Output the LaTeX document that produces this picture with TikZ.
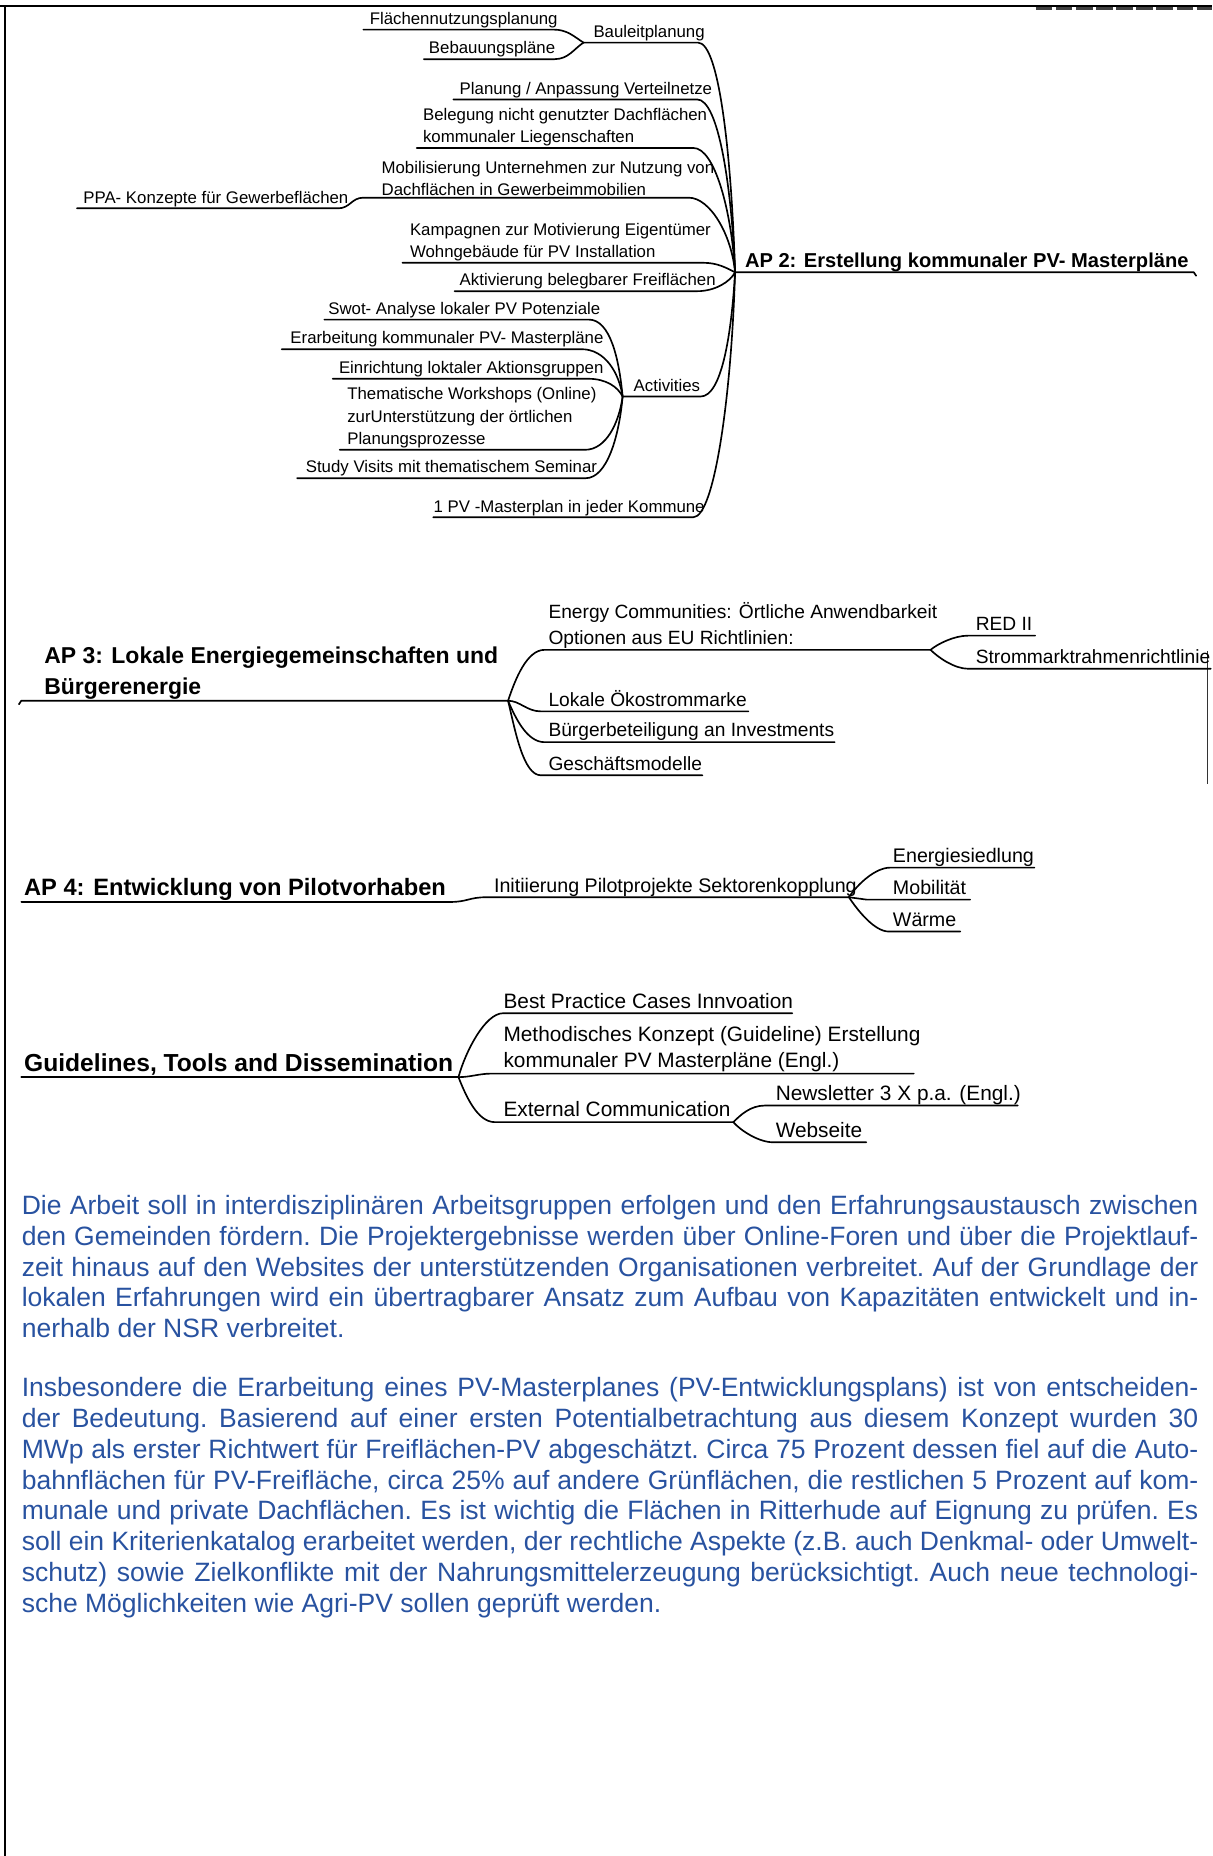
\documentclass[tikz,border=0pt]{standalone}
\usepackage{fontspec}
\setmainfont{Liberation Sans}
\usetikzlibrary{calc}
\definecolor{textblue}{RGB}{40,82,160}

\begin{document}
\begin{tikzpicture}[x=0.5pt, y=-0.5pt,
  lbl/.style={anchor=south west, inner xsep=0pt, inner ysep=0.2pt, text depth=1.8pt, font=\fontsize{7.1}{9.5}\selectfont},
  lbltwo/.style={anchor=south west, inner xsep=0pt, inner ysep=0.5pt, align=left, font=\fontsize{7.1}{9.5}\selectfont},
  sub/.style={lbl, font=\fontsize{#1}{11}\selectfont}, sub/.default=8.1,
  subtwo/.style={lbltwo, font=\fontsize{#1}{11}\selectfont}, subtwo/.default=8.1,
  head/.style={lbl, text depth=2.2pt, font=\bfseries\fontsize{#1}{13}\selectfont}, head/.default=10,
  branch/.style={line width=0.7pt, line cap=round, line join=round},
  para/.style={anchor=base west, inner sep=0pt, text width=497pt, align=justify, text=textblue, font=\fontsize{11.2}{13}\selectfont\frenchspacing},
]
\useasboundingbox (0,0) rectangle (1024,1568);
\draw[line width=1pt] (0,5) -- (1024,5);
\draw[line width=0.7pt] (4,5) -- (4,1568);
\draw[line width=1.2pt, black!75, dash pattern=on 7pt off 1.5pt] (875,7) -- (1024,7);
\draw[line width=0.6pt, black!80] (1020,550) -- (1020,662);

\node[lbl, font=\bfseries\fontsize{8.5}{10}\selectfont] (ap2) at (629,230) {AP 2: Erstellung kommunaler PV- Masterpläne};
\node[lbl] (bau) at (501,36) {Bauleitplanung};
\node[lbl] (flaech) at (312,25) {Flächennutzungsplanung};
\node[lbl] (bebau) at (362,50) {Bebauungspläne};
\node[lbl] (plan) at (388,84) {Planung / Anpassung Verteilnetze};
\node[lbltwo] (beleg) at (357,125) {Belegung nicht genutzter Dachflächen\\kommunaler Liegenschaften};
\node[lbltwo] (mobil) at (322,167) {Mobilisierung Unternehmen zur Nutzung von\\Dachflächen in Gewerbeimmobilien};
\node[lbl] (ppa) at (70,176) {PPA- Konzepte für Gewerbeflächen};
\node[lbltwo] (kamp) at (346,222) {Kampagnen zur Motivierung Eigentümer\\Wohngebäude für PV Installation};
\node[lbl] (aktiv) at (388,246) {Aktivierung belegbarer Freiflächen};
\node[lbl] (act) at (535,335) {Activities};
\node[lbl] (swot) at (277,270) {Swot- Analyse lokaler PV Potenziale};
\node[lbl] (erarb) at (245,295) {Erarbeitung kommunaler PV- Masterpläne};
\node[lbl] (einr) at (286,320) {Einrichtung loktaler Aktionsgruppen};
\node[lbltwo] (them) at (293,380) {Thematische Workshops (Online)\\zurUnterstützung der örtlichen\\Planungsprozesse};
\node[lbl] (study) at (258,404) {Study Visits mit thematischem Seminar};
\node[lbl] (one) at (366,437) {1 PV -Masterplan in jeder Kommune};

\coordinate (hubtwo) at ($(ap2.south west)+(-8,0)$);
\coordinate (hubbau) at ($(bau.south west)+(-8,0)$);
\coordinate (hubact) at ($(act.south west)+(-9,0)$);
\draw[branch] (hubtwo) -- ($(ap2.south east)+(4,0)$) -- ++(2,3);
\draw[branch] (hubbau) -- ($(bau.south east)+(-6,0)$) .. controls +(18,0) and +(-3,-97) .. (hubtwo);
\draw[branch] ($(flaech.south west)+(-5,0)$) -- ($(flaech.south east)+(-4,0)$) .. controls +(12,0) and +(-8,-5) .. (hubbau);
\draw[branch] ($(bebau.south west)+(-4,0)$) -- ($(bebau.south east)+(-1,0)$) .. controls +(12,0) and +(-8,5) .. (hubbau);
\draw[branch] ($(plan.south west)+(-5,0)$) -- ($(plan.south east)+(-13,0)$) .. controls +(18,0) and +(-3,-73) .. (hubtwo);
\draw[branch] ($(beleg.south west)+(-5,0)$) -- ($(beleg.south east)+(-12,0)$) .. controls +(18,0) and +(-3,-52) .. (hubtwo);
\draw[branch] ($(ppa.south west)+(-5,0)$) -- ($(ppa.south east)+(-9,0)$) .. controls +(10,0) and +(-10,0) .. ($(mobil.south west)+(-15,0)$) -- ($(mobil.south east)+(-22,0)$) .. controls +(18,0) and +(-3,-32) .. (hubtwo);
\draw[branch] ($(kamp.south west)+(-6,0)$) -- ($(kamp.south east)+(-7,0)$) .. controls +(12,0) and +(-8,-4) .. (hubtwo);
\draw[branch] ($(aktiv.south west)+(-4,0)$) -- ($(aktiv.south east)+(-16,0)$) .. controls +(15,0) and +(-4,8) .. (hubtwo);
\draw[branch] (hubact) -- (act.south east) .. controls +(18,0) and +(-3,52) .. (hubtwo);
\draw[branch] (one.south west) -- ($(one.south east)+(-10,0)$) .. controls +(18,0) and +(-3,103) .. (hubtwo);
\draw[branch] ($(swot.south west)+(-3,0)$) -- ($(swot.south east)+(-10,0)$) .. controls +(18,0) and +(-3,-32) .. (hubact);
\draw[branch] ($(erarb.south west)+(-7,0)$) -- ($(erarb.south east)+(-19,0)$) .. controls +(20,0) and +(-3,-20) .. (hubact);
\draw[branch] ($(einr.south west)+(-5,0)$) -- ($(einr.south east)+(-13,0)$) .. controls +(15,0) and +(-4,-8) .. (hubact);
\draw[branch] ($(them.south west)+(-6,0)$) -- ($(them.south east)+(-10,0)$) .. controls +(18,0) and +(-3,22) .. (hubact);
\draw[branch] ($(study.south west)+(-7,0)$) -- ($(study.south east)+(-10,0)$) .. controls +(18,0) and +(-3,34) .. (hubact);

\node[lbltwo, font=\bfseries\fontsize{9.7}{13}\selectfont] (ap3) at (37,592) {AP 3: Lokale Energiegemeinschaften und\\Bürgerenergie};
\node[subtwo] (ecom) at (463,549) {Energy Communities: Örtliche Anwendbarkeit\\Optionen aus EU Richtlinien:};
\node[sub] (red) at (824,537) {RED II};
\node[sub] (strom) at (824,565) {Strommarktrahmenrichtlinie};
\node[sub] (oeko) at (463,601) {Lokale Ökostrommarke};
\node[sub] (buerg) at (463,627) {Bürgerbeteiligung an Investments};
\node[sub] (gesch) at (463,655) {Geschäftsmodelle};

\coordinate (hubthree) at ($(ap3.south east)+(8,0)$);
\coordinate (hubecom) at ($(ecom.south east)+(-6,0)$);
\draw[branch] ($(ap3.south west)+(-21,3)$) -- ($(ap3.south west)+(-19,0)$) -- (hubthree);
\draw[branch] (hubthree) .. controls +(6,-18) and +(-15,0) .. ($(ecom.south west)+(-3,0)$) -- (hubecom);
\draw[branch] (hubthree) .. controls +(10,0) and +(-12,0) .. ($(oeko.south west)+(-6,0)$) -- ($(oeko.south east)+(1,0)$);
\draw[branch] (hubthree) .. controls +(6,14) and +(-15,0) .. ($(buerg.south west)+(-3,0)$) -- (buerg.south east);
\draw[branch] (hubthree) .. controls +(6,25) and +(-15,0) .. ($(gesch.south west)+(-6,0)$) -- (gesch.south east);
\draw[branch] (hubecom) .. controls +(6,-5) and +(-12,0) .. ($(red.south west)+(-6,0)$) -- ($(red.south east)+(2,0)$);
\draw[branch] (hubecom) .. controls +(6,6) and +(-12,0) .. ($(strom.south west)+(-6,0)$) -- (strom.south east);

\node[head] (ap4) at (20,762) {AP 4: Entwicklung von Pilotvorhaben};
\node[sub=8.3] (init) at (417,758) {Initiierung Pilotprojekte Sektorenkopplung};
\node[sub=8.3] (energ) at (754,733) {Energiesiedlung};
\node[sub=8.3] (mob) at (754,760) {Mobilität};
\node[sub=8.3] (waerme) at (754,787) {Wärme};

\coordinate (hubinit) at ($(init.south east)+(-7,0)$);
\draw[branch] ($(ap4.south west)+(-2,0)$) -- ($(ap4.south east)+(3,0)$) .. controls +(15,0) and +(-15,0) .. ($(init.south west)+(-6,0)$) -- (hubinit);
\draw[branch] (hubinit) .. controls +(8,-12) and +(-12,0) .. ($(energ.south west)+(-2,0)$) -- (energ.south east);
\draw[branch] (hubinit) -- ($(mob.south west)+(-22,0)$) -- ($(mob.south east)+(3,0)$);
\draw[branch] (hubinit) .. controls +(8,12) and +(-12,0) .. ($(waerme.south west)+(-3,0)$) -- ($(waerme.south east)+(3,0)$);

\node[head=10.4] (guide) at (20,910) {Guidelines, Tools and Dissemination};
\node[sub=8.8] (best) at (425,856) {Best Practice Cases Innvoation};
\node[subtwo=8.8] (meth) at (425,907) {Methodisches Konzept (Guideline) Erstellung\\kommunaler PV Masterpläne (Engl.)};
\node[sub=8.8] (ext) at (425,948) {External Communication};
\node[sub=8.8] (news) at (655,934) {Newsletter 3 X p.a. (Engl.)};
\node[sub=8.8] (web) at (655,965) {Webseite};

\coordinate (hubguide) at ($(guide.south east)+(4,0)$);
\coordinate (hubext) at ($(ext.south east)+(2,0)$);
\draw[branch] ($(guide.south west)+(-2,0)$) -- (hubguide);
\draw[branch] (hubguide) .. controls +(6,-22) and +(-15,0) .. (best.south west) -- ($(best.south east)+(-1,0)$);
\draw[branch] (hubguide) .. controls +(10,0) and +(-10,0) .. ($(meth.south west)+(-10,0)$) -- ($(meth.south east)+(-6,0)$);
\draw[branch] (hubguide) .. controls +(6,15) and +(-15,0) .. ($(ext.south west)+(-7,0)$) -- (hubext);
\draw[branch] (hubext) .. controls +(6,-6) and +(-12,0) .. ($(news.south west)+(-9,0)$) -- ($(news.south east)+(-3,0)$);
\draw[branch] (hubext) .. controls +(6,7) and +(-12,0) .. ($(web.south west)+(-2,0)$) -- ($(web.south east)+(3,0)$);

\node[para] (arbeit) at (18,1026) {Die Arbeit soll in interdisziplinären Arbeitsgruppen erfolgen und den Erfahrungsaustausch zwischen\linebreak den Gemeinden fördern. Die Projektergebnisse werden über Online-Foren und über die Projektlauf-\linebreak zeit hinaus auf den Websites der unterstützenden Organisationen verbreitet. Auf der Grundlage der\linebreak lokalen Erfahrungen wird ein übertragbarer Ansatz zum Aufbau von Kapazitäten entwickelt und in-\linebreak nerhalb der NSR verbreitet.};
\node[para] (master) at (18,1180) {Insbesondere die Erarbeitung eines PV-Masterplanes (PV-Entwicklungsplans) ist von entscheiden-\linebreak der Bedeutung. Basierend auf einer ersten Potentialbetrachtung aus diesem Konzept wurden 30\linebreak MWp als erster Richtwert für Freiflächen-PV abgeschätzt. Circa 75 Prozent dessen fiel auf die Auto-\linebreak bahnflächen für PV-Freifläche, circa 25\% auf andere Grünflächen, die restlichen 5 Prozent auf kom-\linebreak munale und private Dachflächen. Es ist wichtig die Flächen in Ritterhude auf Eignung zu prüfen. Es\linebreak soll ein Kriterienkatalog erarbeitet werden, der rechtliche Aspekte (z.B. auch Denkmal- oder Umwelt-\linebreak schutz) sowie Zielkonflikte mit der Nahrungsmittelerzeugung berücksichtigt. Auch neue technologi-\linebreak sche Möglichkeiten wie Agri-PV sollen geprüft werden.};
\end{tikzpicture}
\end{document}
